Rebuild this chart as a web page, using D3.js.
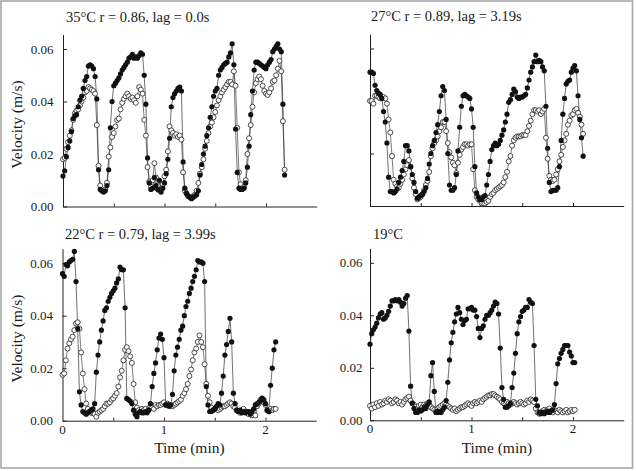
<!DOCTYPE html>
<html><head><meta charset="utf-8">
<script src="https://cdn.jsdelivr.net/npm/d3@7"></script>
<style>
body{margin:0;background:#fff}
svg{display:block}
text{font-family:"Liberation Serif","Times New Roman",serif;fill:#1a1a1a}
</style>
</head><body>
<svg id="chart" width="636" height="471"></svg>
<script>
// sampling interval (minutes) of every series
const stepMin = 1 / 60;
// axis ticks
const xTickValues = [0.5, 1, 1.5, 2];
const xTickLabels = [0, 1, 2];
const yTickValues = [0, 20, 40, 60];          // mm/s  (0.00 ... 0.06 m/s)
const yTickLabels = ["0.00", "0.02", "0.04", "0.06"];
const panelTitles = ["35\u00B0C r = 0.86, lag = 0.0s", "27\u00B0C r = 0.89, lag = 3.19s",
                     "22\u00B0C r = 0.79, lag = 3.99s", "19\u00B0C"];
const yAxisTitle = "Velocity (m/s)";
const xAxisTitle = "Time (min)";

// velocities in mm/s (= 0.001 m/s)
const t35Filled = [11.6,13.6,19,22.5,25,28.5,33.5,34.5,35,38,
40.5,42,45,48,49.5,53.5,54,53.5,52.5,49.5,
41,14,6.5,6,5.5,6,8,14,30,40,
46,47,48,49,50.5,52,53,54,55,56.5,
57,58,56.5,57,56.5,57.5,58.5,58,50,39,
18.5,9,6.5,7,11,8,6.5,10,5.5,7,
9,12.5,18,26,38,41.5,43,44,45,45.5,
44,17,7,5,4,3.5,3,3.5,4,4.5,
6,12,16,20,23,27,30,34,38,42,
44,45,50,52,53,54,54.5,55,57,58.5,
62,54,29.5,13,7,6.5,6.5,7,9,15,
23,35,44,52,55,55,54.5,54,53.5,53,
52.5,54,55,56,59,60,61,62,60,59,
39,12];
const t35Open = [18,18.5,22,24.5,27,29,33,35.5,36.5,37,
38.5,40,41.5,43.5,44,45.5,45,44.5,44,43,
31,15.5,8,6,6,6.5,9,19,22.5,26.5,
28,30.5,33,33.5,37,39.5,41,42,43,42,
41,41.5,40.5,39.5,42,45.5,44.5,43,33,27,
15,9.5,7.5,10,16.5,11,8,6,6.5,8.5,
11.5,14,21,30.5,29,28,27,27.5,26.5,27,
25.5,13,6,5,4,3.5,3.5,4,4.5,6,
9,12.5,15,18,22,25,28,30.5,32,34,
36,38.5,40.5,42,43.5,44.5,45.5,46.5,47.5,47.5,
46.5,51.5,46,30,13,8.5,7,7.5,10,20,
26,31,38,43.5,47,48.5,49.5,48.5,46,44,
43,42.5,43.5,45,47.5,48,50,52.5,55.5,51.5,
32.5,14];
const t27Filled = [51,51,50.5,46,44,43,42.5,41,36,32,
24,11,5.5,5.5,5,5.5,6.5,9,11,13.5,
17,23,23,21,15,12,9,5.5,3,3.5,
4,4.5,5.5,7,10.5,16,20,23,25,28,
31,36,42,45.5,44,33,20,8,6,6,
7,12,21,30,38,42,42.5,42,41.5,41,
37,30,15,5,3.5,2.5,2.5,3.5,4,8,
12,17,21.5,23,24,23,23.5,25,27,29,
32,35,39.5,40.5,42.5,44.5,43.5,41.5,41,41.5,
41.5,42,42.5,45,48,51,53,55,57.5,55,
55.5,55,53,51.5,38,22,9,5.5,6,6,
6,7,15,25,35,41,46.5,47.5,48,51,
52.5,53.5,51.5,42,33,26,19];
const t27Open = [40,40,39,42,42,41.5,41,41.5,41.5,41,
39,33,28,19,10,8.5,7.5,7,8.5,10,
12,14,15.5,17.5,15,10.5,7,4.5,2.5,3,
3.5,4.5,6,8,9.5,13,19,22,24,25,
26.5,28.5,30,32,32,28.5,24,20.5,18.5,16.5,
15.5,12.5,16.5,19.5,21.5,22.5,23.5,23.5,23,23.5,
23.5,14,6,3.5,2.5,2,1,1,1,1.5,
2,3.5,4.5,5,6,6.5,7,7.5,8,9,
11,13,17,19,23,25,26,26.5,26.5,26.5,
27,27,27,28.5,30.5,32.5,35,36.5,36.5,36,
36.5,35,36,37,26,18,11.5,10,9.5,10,
12,14,17,19.5,22.5,25,27.5,31,32.5,34.5,
35,36.5,37,35.5,34,31,27.5];
const t22Filled = [56,55,59.5,59,60.5,61,61.5,64.5,53,35,
11,6,3.5,3,2.5,3,3.5,4,4.5,6.5,
18.5,25,30,34.5,38,42,43,45.5,47,48.5,
49.5,50.5,52.5,54,58.5,57.5,57.5,43,8.5,8,
7.5,6.5,4,2.5,1.5,3,3.5,3,3,3.5,
3,4,6.5,13,18,22,27,31.5,33,31,
24,6,6,5.5,6,10,19,25,28,31,
34.5,36,40,43.5,45.5,48.5,50.5,53,55,57.5,
61,60.5,60.5,60,53,13,6,3.5,3.5,4,
4.5,5.5,6.5,6,10.5,17,25,29,34,39,
30,10.5,6.5,4,3.5,4,3,3.5,3,3.5,
3.5,2.5,3.5,4.5,6,6.5,7,7.5,8.5,8,
6.5,4,3.5,13.5,20,27,30];
const t22Open = [17.5,18,23,27.5,29.5,31,32,34.5,37,37.5,
35,26,18,12,6.5,4.5,3.5,3,3,2.5,
1.5,3,3.5,4,4.5,5.5,6.5,6.5,7,8,
8.5,9.5,10.5,13,16.5,19,23,27,28,26.5,
24.5,22,14,7,5,4,3.5,4.5,4,4.5,
3.5,4.5,5.5,5,4.5,6,5.5,6,6,6.5,
7,6,6.5,6,5.5,5.5,6,6.5,7,7.5,
8,9.5,10.5,12,14,17,19.5,23,26,27.5,
30,32.5,30,28,21.5,14,9.5,7,5,4,
4.5,5,4,4.5,5,5.5,5.5,6,6.5,7,
6.5,5.5,5,4,3.5,3,4,4.5,3.5,3,
2.5,3,2,3.5,2,5.5,6.5,8,8.5,7,
6,4,3.5,4.5,4,4.5,4.5];
const t19Filled = [29,33,34.5,35.5,37,39,40.5,41,38.5,39,
40,41.5,43.5,45.5,45.5,46,45.5,46,45,43.5,
44.5,46.5,47.5,34,13,6.5,4.5,3,3,4,
3.5,4,5,4.5,6,7,17,22,11,3,
3.5,3,3,4,5,7.5,14.5,23,29.5,33.5,
37.5,40.5,43,41,38.5,36.5,38,38.5,42.5,42.5,
43,42,42,39.5,35,31.5,35,36,38.5,40,
40,41,42,43.5,45,44.5,40.5,27.5,12.5,8,
5,5,5.5,6.5,12.5,18,25.5,33,37.5,39.5,
41.5,42,43,43,46,45,44.5,28.5,8,5.5,
3,2.5,3,2.5,3,3.5,3,3.5,4,6,
14,21.5,23.5,25.5,27,28.5,28.5,28.5,26,24.5,
22,22];
const t19Open = [5.5,4.5,6,5,6.5,5.5,7,6,6.5,7.5,
7,8,7.5,6.5,7,8,7.5,6.5,7,6,
7,8,8.5,9,7.5,6.5,6,5,4.5,5.5,
6,5,6,5.5,6.5,6,5,4.5,4,3.5,
4.5,5,5.5,6,6.5,6,5.5,5,4.5,4,
4.5,3.5,4,4.5,5,5,5.5,6,6.5,6,
5.5,6.5,7,6.5,7,7.5,7,8,8.5,9,
9.5,9.5,10,10,9.5,9,8.5,8,7,6.5,
6,7,6.5,6,6.5,7,6.5,6,6.5,7,
6.5,6,6.5,7.5,7,8,7.5,7,4.5,3,
2.5,3,3.5,4,3.5,4,4.5,3.5,3,4,
3.5,3,4,3.5,3,3.5,4,3,3.5,4,
3.5,4];

const seriesSets = [
  {filled: t35Filled, open: t35Open},
  {filled: t27Filled, open: t27Open},
  {filled: t22Filled, open: t22Open},
  {filled: t19Filled, open: t19Open}
];

// layout (positions only)
const layout = [
  {x0: 63,   base: 206.5, tx: 66,  ty: 21.5, yNums: true,  xNums: false, yTitle: true,  xTitle: false, pad: 9.5},
  {x0: 370,  base: 206,   tx: 371, ty: 20.5, yNums: false, xNums: false, yTitle: false, xTitle: false, pad: 7.5},
  {x0: 62.5, base: 420.7, tx: 65,  ty: 239,  yNums: true,  xNums: true,  yTitle: true,  xTitle: true,  pad: 9.5},
  {x0: 370,  base: 420.3, tx: 373, ty: 238.5,yNums: true,  xNums: true,  yTitle: false, xTitle: true,  pad: 7.5}
];
const pxPerMin = 101.5;
const pxPerUnit = 2.625;  // per mm/s
const yMax = 65.5;
const xMax = 2.5;

const svg = d3.select("#chart");
svg.append("rect").attr("x", 0).attr("y", 0).attr("width", 636).attr("height", 471).attr("fill", "#fff");
svg.append("rect").attr("x", 1).attr("y", 1).attr("width", 631.5).attr("height", 467)
  .attr("fill", "none").attr("stroke", "#a8a8a8").attr("stroke-width", 1.6);

layout.forEach((L, k) => {
  const data = seriesSets[k];
  const x = d3.scaleLinear().domain([0, xMax]).range([L.x0, L.x0 + xMax * pxPerMin]);
  const y = d3.scaleLinear().domain([0, yMax]).range([L.base, L.base - yMax * pxPerUnit]);
  const g = svg.append("g");

  // axes
  const yAxis = d3.axisLeft(y).tickValues(yTickValues).tickSizeInner(-4).tickSizeOuter(0)
    .tickPadding(L.pad)
    .tickFormat((d, i) => L.yNums ? yTickLabels[i] : "");
  const ya = g.append("g").attr("transform", `translate(${L.x0},0)`).call(yAxis);
  const xAxis = d3.axisBottom(x).tickValues(xTickValues).tickSizeInner(-3).tickSizeOuter(0)
    .tickPadding(3.5)
    .tickFormat(d => "");
  const xa = g.append("g").attr("transform", `translate(0,${L.base})`).call(xAxis);
  [ya, xa].forEach(a => {
    a.selectAll("path.domain").attr("stroke", "#222").attr("stroke-width", 1);
    a.selectAll(".tick line").attr("stroke", "#222").attr("stroke-width", 1);
    a.selectAll("text").attr("font-size", 13).attr("fill", "#1a1a1a")
      .attr("font-family", "Liberation Serif");
  });
  if (L.xNums) {
    g.append("g").selectAll("text").data(xTickLabels).join("text")
      .attr("x", d => x(d)).attr("y", L.base + 13)
      .attr("text-anchor", "middle").attr("font-size", 13).text(d => d);
  }

  // title
  g.append("text").attr("x", L.tx).attr("y", L.ty).attr("font-size", 14.5).text(panelTitles[k]);
  if (L.yTitle) {
    g.append("text").attr("transform", `translate(22,${(L.base + y(yMax)) / 2 + 4}) rotate(-90)`)
      .attr("text-anchor", "middle").attr("font-size", 15.5).text(yAxisTitle);
  }
  if (L.xTitle) {
    g.append("text").attr("x", L.x0 + xMax * pxPerMin / 2).attr("y", 453)
      .attr("text-anchor", "middle").attr("font-size", 15.5).text(xAxisTitle);
  }

  const line = d3.line().x((d, i) => x(i * stepMin)).y(d => y(d));
  // open series
  g.append("path").datum(data.open).attr("d", line).attr("fill", "none")
    .attr("stroke", "#444").attr("stroke-width", 0.7);
  g.append("path").datum(data.filled).attr("d", line).attr("fill", "none")
    .attr("stroke", "#333").attr("stroke-width", 0.7);
  g.append("g").selectAll("circle").data(data.open).join("circle")
    .attr("cx", (d, i) => x(i * stepMin)).attr("cy", d => y(d)).attr("r", 2.5)
    .attr("fill", "#fff").attr("stroke", "#222").attr("stroke-width", 0.8);
  g.append("g").selectAll("circle").data(data.filled).join("circle")
    .attr("cx", (d, i) => x(i * stepMin)).attr("cy", d => y(d)).attr("r", 2.6)
    .attr("fill", "#111");
});
</script>
</body></html>
